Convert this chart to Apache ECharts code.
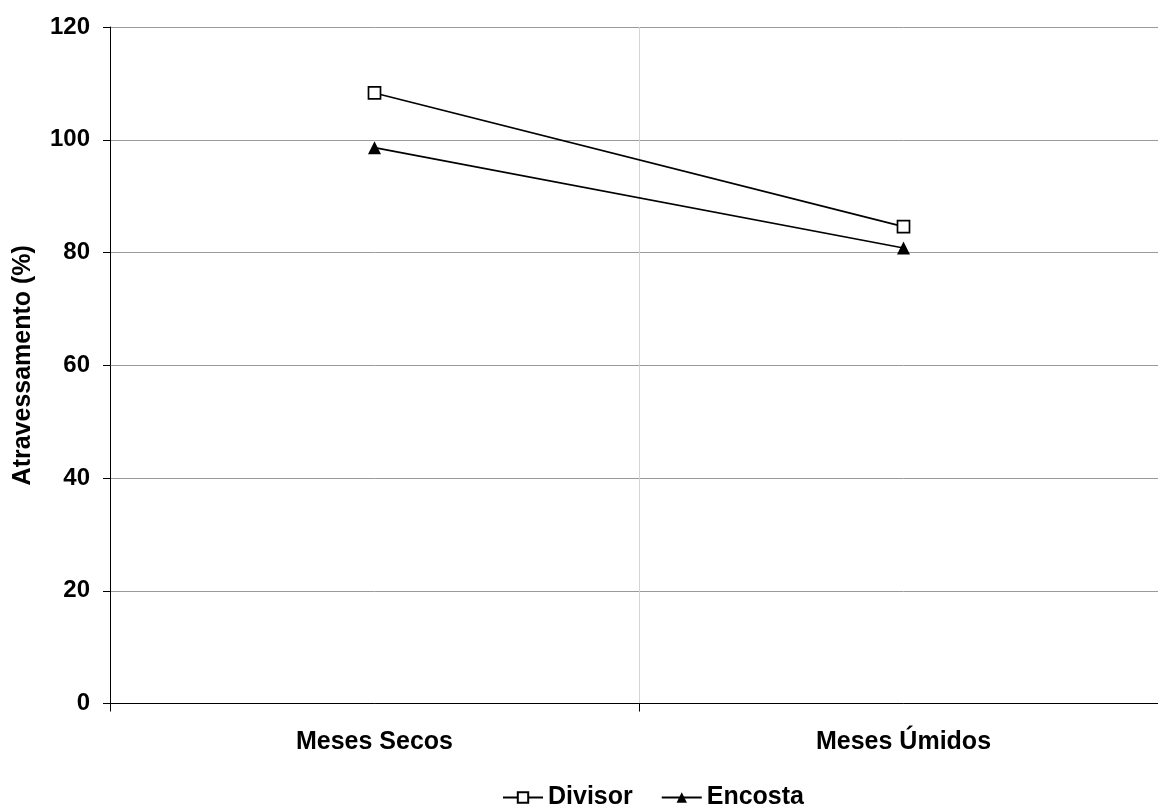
<!DOCTYPE html>
<html>
<head>
<meta charset="utf-8">
<script src="https://cdn.jsdelivr.net/npm/echarts@6/dist/echarts.min.js"></script>
<style>
  html, body { margin: 0; padding: 0; background: #ffffff; overflow: hidden; }
  /* the canvas is a little wider than the window so the plot runs past the right edge */
  #chart { width: 1170px; height: 805px; }
</style>
</head>
<body>
<div id="chart"></div>
<script>
// Period categories on the x axis
const categories = ['Meses Secos', 'Meses Úmidos'];
// Throughfall percentage per site
const divisor = [108.3, 84.6];
const encosta = [98.6, 80.8];
const yTicks = [0, 20, 40, 60, 80, 100, 120];

const FONT = '"Liberation Sans", Arial, Helvetica, sans-serif';

const chart = echarts.init(document.getElementById('chart'), null, { renderer: 'canvas' });

chart.setOption({
  backgroundColor: '#ffffff',
  animation: false,
  grid: { left: 110, right: 2, top: 27, bottom: 101.5, containLabel: false },
  legend: {
    left: 497,
    top: 780,
    itemWidth: 40,
    itemHeight: 13,
    itemGap: 28,
    textStyle: { fontFamily: FONT, fontWeight: 'bold', fontSize: 25, color: '#000' },
    data: ['Divisor', 'Encosta']
  },
  xAxis: {
    type: 'category',
    data: categories,
    boundaryGap: true,
    axisLine: { show: true, lineStyle: { color: '#000', width: 1 } },
    axisTick: { show: true, alignWithLabel: false, length: 8, lineStyle: { color: '#000' } },
    splitLine: { show: true, lineStyle: { color: '#d4d4d4', width: 1 } },
    axisLabel: { margin: 26, fontFamily: FONT, fontWeight: 'bold', fontSize: 25, color: '#000' }
  },
  yAxis: {
    type: 'value',
    min: yTicks[0],
    max: yTicks[yTicks.length - 1],
    interval: 20,
    name: 'Atravessamento (%)',
    nameLocation: 'middle',
    nameGap: 74,
    nameRotate: 90,
    nameTextStyle: { fontFamily: FONT, fontWeight: 'bold', fontSize: 25, color: '#000' },
    axisLine: { show: true, lineStyle: { color: '#000', width: 1 } },
    axisTick: { show: true, inside: false, length: 7, lineStyle: { color: '#000' } },
    splitLine: { show: true, lineStyle: { color: '#9a9a9a', width: 1 } },
    axisLabel: { margin: 20, fontFamily: FONT, fontWeight: 'bold', fontSize: 24, color: '#000' }
  },
  series: [
    {
      name: 'Divisor',
      type: 'line',
      data: divisor,
      symbol: 'rect',
      symbolSize: 12,
      lineStyle: { color: '#000', width: 1.7 },
      itemStyle: { color: '#ffffff', borderColor: '#000', borderWidth: 1.7 },
      z: 3
    },
    {
      name: 'Encosta',
      type: 'line',
      data: encosta,
      symbol: 'triangle',
      symbolSize: 13,
      lineStyle: { color: '#000', width: 1.7 },
      itemStyle: { color: '#000', borderColor: '#000', borderWidth: 0 },
      z: 3
    }
  ]
});
</script>
</body>
</html>
